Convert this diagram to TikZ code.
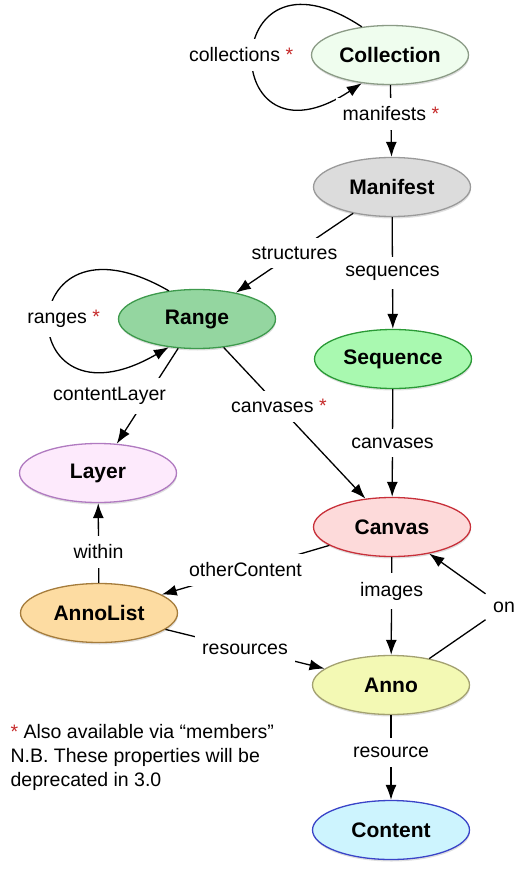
\documentclass[tikz,border=0pt]{standalone}
\usepackage{fontspec}
\setmainfont{Liberation Sans}
\usetikzlibrary{positioning,arrows.meta,shapes.geometric,shadows}

\definecolor{starred}{HTML}{C62A2A}
\definecolor{collfill}{HTML}{EFFDEE}\definecolor{colldraw}{HTML}{8B9B86}
\definecolor{manifill}{HTML}{DCDCDC}\definecolor{manidraw}{HTML}{9A9A9A}
\definecolor{rangefill}{HTML}{94D6A0}\definecolor{rangedraw}{HTML}{3E9A4D}
\definecolor{seqfill}{HTML}{A9F9B0}\definecolor{seqdraw}{HTML}{2A9A36}
\definecolor{layerfill}{HTML}{FDEAFC}\definecolor{layerdraw}{HTML}{B07AC0}
\definecolor{canvfill}{HTML}{FDDADA}\definecolor{canvdraw}{HTML}{C8303A}
\definecolor{alistfill}{HTML}{FDDCA2}\definecolor{alistdraw}{HTML}{A57C3C}
\definecolor{annofill}{HTML}{F3F9B4}\definecolor{annodraw}{HTML}{A3A171}
\definecolor{contfill}{HTML}{CDF4FE}\definecolor{contdraw}{HTML}{3A44C8}

\newcommand{\redstar}{{\color{starred}*}}

\begin{document}
\begin{tikzpicture}[
    x=1pt, y=-1pt,
    >={Latex[length=15pt,width=11pt]},
    line width=1.3pt,
    obj/.style={ellipse, draw, minimum width=157pt, minimum height=59pt,
      inner sep=0pt, font=\fontsize{21pt}{25pt}\selectfont\bfseries,
      drop shadow={shadow xshift=0.5pt, shadow yshift=-2pt, opacity=0.25}},
    lbl/.style={fill=white, inner xsep=7pt, inner ysep=9pt,
      font=\fontsize{19.5pt}{23pt}\selectfont}
  ]
  \useasboundingbox (0,0) rectangle (523,874);

  % nodes
  \node[obj, fill=collfill, draw=colldraw] (coll) at (390,55) {Collection};
  \node[obj, fill=manifill, draw=manidraw] (mani) at (392,187) {Manifest};
  \node[obj, fill=rangefill, draw=rangedraw] (range) at (197,319) {Range};
  \node[obj, fill=seqfill, draw=seqdraw] (seq) at (393,359) {Sequence};
  \node[obj, fill=layerfill, draw=layerdraw] (layer) at (98,473) {Layer};
  \node[obj, fill=canvfill, draw=canvdraw] (canvas) at (392,527) {Canvas};
  \node[obj, fill=alistfill, draw=alistdraw] (alist) at (99,613) {AnnoList};
  \node[obj, fill=annofill, draw=annodraw] (anno) at (391,685) {Anno};
  \node[obj, fill=contfill, draw=contdraw] (content) at (391,830) {Content};

  % self loops
  \draw[->] (coll.135) .. controls +(-145,-96) and +(-145,96) .. (coll.225)
    node[lbl, midway, xshift=-12pt] {collections \redstar};
  \draw[->] (range.135) .. controls +(-159,-92) and +(-159,92) .. (range.225)
    node[lbl, midway, xshift=14pt] {ranges \redstar};

  % links
  \draw[->] (coll) -- node[lbl, pos=0.4] {manifests \redstar} (mani);
  \draw[->] (mani) -- node[lbl] {structures} (range);
  \draw[->] (mani) -- node[lbl] {sequences} (seq);
  \draw[->] (range) -- node[lbl, xshift=-38pt] {contentLayer} (layer);
  \draw[->] (range) -- node[lbl, pos=0.39] {canvases \redstar} (canvas);
  \draw[->] (seq) -- node[lbl] {canvases} (canvas);
  \draw[->] (alist) -- node[lbl, pos=0.39] {within} (layer);
  \draw[->] (canvas) -- node[lbl] {otherContent} (alist);
  \draw[->] (canvas) -- node[lbl, pos=0.35] {images} (anno);
  \draw[->] (alist) -- node[lbl] {resources} (anno);
  \draw[->] (anno) -- node[lbl, pos=0.44] {resource} (content);

  % on goes round the right side
  \node[lbl] (on) at (504,607) {on};
  \draw[->] (anno) -- (on) -- (canvas);

  % footnote
  \node[anchor=north west, inner sep=0pt, align=left,
    font=\fontsize{19.5pt}{24pt}\selectfont] (note) at (10,724)
    {\redstar{} Also available via “members”\\N.B. These properties will be\\deprecated in 3.0};

\end{tikzpicture}
\end{document}
